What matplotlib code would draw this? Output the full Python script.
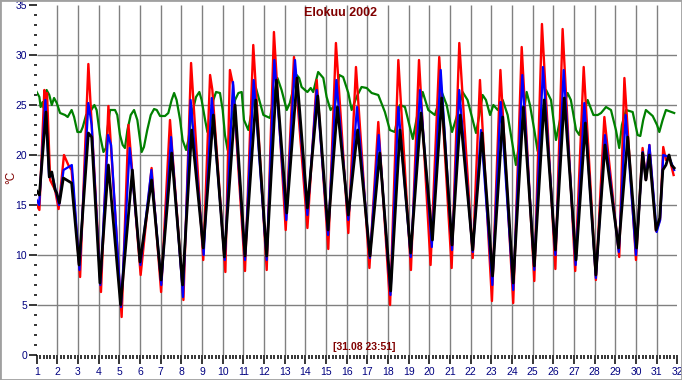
import numpy as np
import matplotlib
matplotlib.use("Agg")
import matplotlib.pyplot as plt
from matplotlib.patches import Rectangle

# turning points (day of month, deg C)
red_t = [1.0, 1.13, 1.37, 1.44, 1.5, 1.65, 1.89, 2.06, 2.32, 2.53, 2.69, 3.1, 3.5, 4.11, 4.47,
         5.11, 5.44, 6.03, 6.56, 7.02, 7.45, 8.1, 8.47, 9.06, 9.39, 9.5, 10.13, 10.35, 10.5,
         11.08, 11.48, 12.13, 12.48, 13.05, 13.45, 14.1, 14.55, 15.11, 15.48, 16.08, 16.45,
         17.1, 17.53, 18.1, 18.5, 19.11, 19.5, 20.06, 20.48, 21.08, 21.45, 22.1, 22.45, 23.03,
         23.44, 24.06, 24.47, 25.08, 25.45, 26.1, 26.45, 27.06, 27.47, 28.06, 28.47, 29.19,
         29.44, 30.0, 30.32, 30.48, 30.65, 30.97, 31.16, 31.32, 31.45, 31.61, 31.82]
red_v = [15.0, 14.5, 26.5, 24.5, 26.2, 17.5, 16.5, 14.6, 20.0, 19.0, 18.5, 7.8, 29.1, 6.3, 24.9,
         3.8, 23.0, 8.0, 18.7, 6.3, 23.5, 5.5, 29.2, 9.5, 28.0, 26.5, 8.3, 28.5, 27.0,
         8.4, 31.0, 8.5, 32.3, 12.5, 29.8, 12.7, 27.5, 10.6, 31.2, 12.2, 28.8,
         8.7, 23.3, 5.0, 29.5, 8.5, 29.5, 9.0, 29.8, 8.7, 31.2, 9.7, 27.5, 5.4,
         28.5, 5.2, 30.8, 7.4, 33.1, 8.6, 32.6, 8.4, 28.8, 7.5, 23.8, 9.8,
         27.7, 9.5, 20.7, 17.5, 21.0, 12.4, 13.5, 20.8, 19.5, 19.8, 18.0]

blue_t = [1.0, 1.12, 1.42, 1.6, 1.75, 2.08, 2.3, 2.7, 2.78, 3.07, 3.5, 3.66, 4.08, 4.45, 4.6,
          5.08, 5.5, 6.02, 6.55, 7.03, 7.5, 8.08, 8.45, 9.08, 9.47, 10.1, 10.5,
          11.08, 11.5, 12.13, 12.5, 13.08, 13.5, 14.1, 14.55, 15.1, 15.5, 16.08, 16.5,
          17.12, 17.55, 18.12, 18.5, 19.1, 19.55, 20.12, 20.55, 21.1, 21.45, 22.1, 22.5,
          23.05, 23.45, 24.06, 24.5, 25.08, 25.5, 26.1, 26.5, 27.08, 27.5, 28.06, 28.5,
          29.17, 29.5, 30.0, 30.33, 30.48, 30.65, 31.0, 31.17, 31.32, 31.6, 31.85]
blue_v = [15.5, 15.0, 25.5, 17.8, 18.0, 15.0, 18.5, 19.0, 17.0, 8.5, 25.2, 23.0, 7.0, 22.0, 21.0,
          4.8, 20.7, 9.0, 18.5, 7.0, 21.8, 5.8, 25.5, 10.0, 25.7, 9.5, 27.3,
          9.5, 27.5, 9.5, 29.5, 13.5, 29.5, 14.0, 26.5, 12.0, 27.5, 13.5, 24.8,
          9.7, 22.0, 6.0, 24.8, 9.8, 26.5, 10.8, 28.5, 10.5, 26.5, 10.3, 22.5,
          7.0, 25.3, 6.5, 28.0, 8.5, 28.8, 10.0, 28.5, 9.0, 25.2, 7.7, 22.0,
          10.3, 24.0, 10.0, 20.3, 17.5, 21.0, 12.3, 13.5, 20.0, 19.8, 18.5]

black_t = [1.0, 1.13, 1.45, 1.61, 1.73, 1.89, 1.97, 2.1, 2.29, 2.69, 3.05, 3.5, 3.66, 4.06, 4.47,
           5.06, 5.63, 6.0, 6.56, 7.02, 7.53, 8.06, 8.5, 9.06, 9.55, 10.08, 10.6,
           11.08, 11.6, 12.13, 12.6, 13.1, 13.6, 14.1, 14.6, 15.1, 15.55, 16.08, 16.53,
           17.13, 17.6, 18.13, 18.58, 19.1, 19.6, 20.15, 20.6, 21.1, 21.5, 22.1, 22.55,
           23.06, 23.55, 24.06, 24.55, 25.08, 25.56, 26.1, 26.53, 27.1, 27.55, 28.06, 28.5,
           29.16, 29.6, 30.03, 30.32, 30.48, 30.65, 30.97, 31.15, 31.3, 31.45, 31.6, 31.72, 31.85]
black_v = [16.4, 16.0, 24.3, 17.8, 18.3, 16.5, 16.2, 15.2, 17.7, 17.2, 9.0, 22.2, 21.8, 7.2, 19.0,
           5.0, 18.5, 9.3, 17.5, 7.5, 20.2, 7.0, 22.5, 10.7, 24.0, 9.8, 25.0,
           9.9, 25.5, 9.9, 27.5, 14.2, 27.7, 14.7, 25.9, 12.5, 24.8, 14.0, 22.5,
           9.9, 20.2, 6.4, 22.5, 10.2, 24.2, 11.5, 25.7, 11.0, 24.0, 10.5, 22.2,
           7.9, 23.8, 7.2, 24.8, 8.9, 25.5, 10.5, 25.7, 9.5, 23.2, 8.0, 21.0,
           10.7, 21.8, 10.7, 20.2, 17.5, 20.0, 12.5, 13.7, 18.5, 19.0, 20.0, 19.0, 18.7]

green_t = [1.0, 1.13, 1.19, 1.29, 1.34, 1.48, 1.61, 1.73, 1.84, 1.97, 2.13, 2.37, 2.5, 2.69, 2.81,
           2.97, 3.13, 3.23, 3.39, 3.58, 3.79, 3.9, 4.06, 4.23, 4.35, 4.42, 4.55, 4.79, 4.9,
           5.03, 5.16, 5.27, 5.39, 5.55, 5.71, 5.87, 6.0, 6.08, 6.19, 6.35, 6.52, 6.68, 6.81,
           6.97, 7.21, 7.37, 7.53, 7.65, 7.77, 7.94, 8.06, 8.23, 8.34, 8.5, 8.71, 8.87, 8.98,
           9.15, 9.26, 9.39, 9.55, 9.68, 9.87, 10.0, 10.11, 10.24, 10.35, 10.6, 10.76, 10.92,
           11.03, 11.24, 11.61, 11.97, 12.29, 12.65, 12.85, 13.1, 13.25, 13.58, 13.7, 13.82,
           13.98, 14.1, 14.26, 14.38, 14.62, 14.87, 15.03, 15.22, 15.43, 15.64, 15.83, 16.08,
           16.24, 16.48, 16.72, 16.97, 17.21, 17.53, 17.85, 18.09, 18.33, 18.58, 18.82, 19.06,
           19.2, 19.42, 19.68, 19.95, 20.27, 20.6,
           20.84, 21.1, 21.32, 21.61, 21.85, 22.1, 22.26, 22.42, 22.58, 22.74, 22.94, 23.1,
           23.31, 23.55, 23.79, 23.95, 24.19, 24.45, 24.71, 24.87, 25.08, 25.24, 25.4, 25.65,
           25.89, 26.13, 26.37, 26.69, 26.85, 27.1, 27.26, 27.45, 27.66, 27.94, 28.15, 28.31,
           28.55, 28.79, 29.03, 29.19, 29.32, 29.52, 29.84, 30.08, 30.21, 30.35, 30.48, 30.81,
           31.02, 31.13, 31.29, 31.45, 31.85]
green_v = [26.3, 25.8, 24.8, 25.3, 24.7, 26.5, 26.0, 25.0, 25.7, 25.2, 24.2, 24.0, 23.8, 24.5, 23.8,
           22.3, 22.3, 22.8, 24.0, 24.3, 25.0, 24.5, 22.0, 20.3, 20.7, 22.5, 24.5, 24.5, 24.0,
           22.0, 21.0, 20.7, 22.5, 24.0, 24.5, 23.5, 21.5, 20.3, 20.8, 22.5, 24.0, 24.6, 24.5,
           23.9, 23.9, 24.2, 25.5, 26.2, 25.5, 23.5, 21.5, 20.5, 21.5, 24.0, 25.8, 26.3, 25.5,
           23.5, 22.3, 22.8, 25.5, 26.3, 26.2, 24.5, 22.0, 20.5, 22.5, 25.5, 26.2, 26.3,
           23.5, 22.5, 26.7, 24.0, 23.7, 27.7, 26.5, 24.5, 25.2, 28.0, 27.7, 26.8,
           26.5, 26.3, 26.7, 26.3, 28.3, 27.7, 25.8, 24.5, 25.0, 28.0, 27.8, 26.2,
           24.5, 25.8, 26.8, 26.7, 26.2, 26.0, 24.3, 22.5, 22.3, 25.0, 24.8, 22.8,
           21.6, 24.0, 26.3, 24.5, 24.0, 26.3,
           25.0, 22.3, 23.8, 26.3, 25.5, 23.5, 22.2, 24.0, 26.0, 25.5, 24.0, 25.0,
           24.5, 25.5, 24.0, 22.0, 19.0, 22.5, 26.3, 25.0, 22.5, 20.4, 23.0, 26.5,
           25.5, 21.5, 24.0, 26.2, 25.5, 22.5, 22.0, 24.0, 25.5, 24.0, 24.0, 24.2,
           24.8, 24.5, 22.5, 20.7, 23.0, 24.5, 24.3, 22.0, 21.9, 23.5, 24.5, 23.9,
           23.0, 22.3, 23.5, 24.5, 24.2]

title = "Elokuu 2002"
stamp = "[31.08 23:51]"
x_ticks = list(range(1, 33))
y_ticks = list(range(0, 36, 5))

W, H = 682, 380
fig = plt.figure(figsize=(W / 100, H / 100), dpi=100)
fig.patch.set_facecolor("white")
fig.patches.append(Rectangle((0, 0), 1, 1, transform=fig.transFigure,
                             fill=False, edgecolor="#a0a0a0", linewidth=2.0))

ax = fig.add_axes([36.7 / W, 25 / H, 640.6 / W, 350 / H])
ax.set_xlim(1, 32)
ax.set_ylim(0, 35)
for s in ax.spines.values():
    s.set_visible(False)

# grid lines (none at 0/35 or on the first day)
ax.hlines(y_ticks[1:-1], 1, 32, color="#808080", lw=1.0, zorder=1)
ax.vlines(x_ticks[1:-1], 0, 35, color="#808080", lw=1.0, zorder=1)

ax.plot(green_t, green_v, color="#008000", lw=1.6, zorder=2)
ax.plot(red_t, red_v, color="#ff0000", lw=1.7, zorder=3)
ax.plot(blue_t, blue_v, color="#0000ff", lw=1.6, zorder=4)
ax.plot(black_t, black_v, color="black", lw=2.0, zorder=5)

ax.set_xticks(x_ticks)
ax.set_xticks(np.arange(1, 32.01, 1 / 6), minor=True)
ax.set_yticks(y_ticks)
ax.set_yticks(range(0, 36), minor=True)
ax.tick_params(axis="x", which="major", length=6.5, width=1.1, pad=2, labelsize=7.5,
               labelcolor="#000080")
ax.tick_params(axis="x", which="minor", length=3, width=1.1)
ax.tick_params(axis="y", which="major", length=6, width=1.1, pad=1, labelsize=7.5,
               labelcolor="#000080")
ax.tick_params(axis="y", which="minor", length=2.3, width=1.1)
for lab in ax.get_xticklabels() + ax.get_yticklabels():
    lab.set_family("Liberation Sans")

fig.text(341 / W, 1 - 13 / H, title, color="#800000", fontsize=9, fontweight="bold",
         ha="center", va="center", family="Liberation Sans")
fig.text(364 / W, 1 - 347 / H, stamp, color="#800000", fontsize=7.5, fontweight="bold",
         ha="center", va="center", family="Liberation Sans")
fig.text(11 / W, 1 - 177 / H, "°C", color="#800000", fontsize=8.5, rotation=90,
         ha="center", va="center", family="Liberation Sans")

fig.savefig("out.png", dpi=100)
